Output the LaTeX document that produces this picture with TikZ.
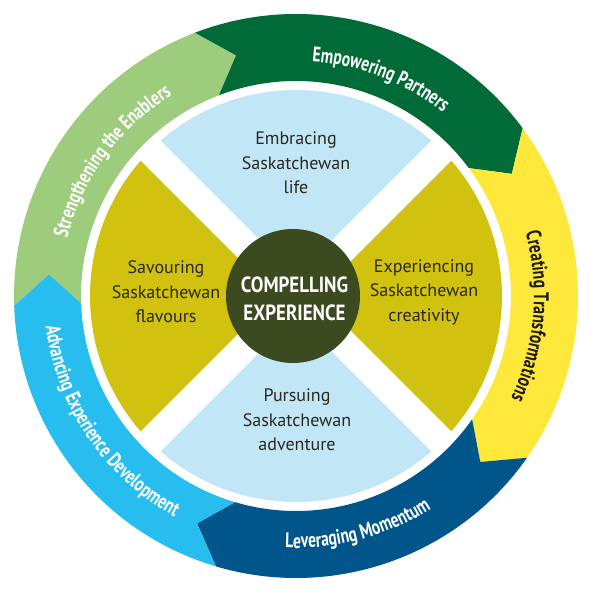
\documentclass[tikz,border=0pt]{standalone}
\usepackage{fontspec}
\setmainfont{PT Sans}
\newfontfamily\ringfont[FakeStretch=0.74]{PT Sans}
\newfontfamily\corefont[FakeStretch=0.86]{PT Sans}
\usetikzlibrary{decorations.text}
\definecolor{lgreen}{HTML}{9DCD7C}
\definecolor{dgreen}{HTML}{006B36}
\definecolor{ryellow}{HTML}{FFE83C}
\definecolor{dblue}{HTML}{00568A}
\definecolor{lblue}{HTML}{27BDEE}
\definecolor{olive}{HTML}{D1C20F}
\definecolor{paleblue}{HTML}{C1E6F6}
\definecolor{coregreen}{HTML}{3C4A1F}
\definecolor{qtext}{HTML}{2A271E}
\definecolor{darktext}{HTML}{1E1B18}
\newcommand\ringseg[3]{\fill[#3] (#1:282pt) arc[start angle=#1, end angle=#2, radius=282pt] -- ({#2-7}:248pt) -- (#2:215pt) arc[start angle=#2, end angle=#1, radius=215pt] -- ({#1-7}:248pt) -- cycle;}
\newcommand\ringtxt{\ringfont\bfseries\fontsize{21}{24}\selectfont}
\begin{document}
\begin{tikzpicture}[x=1pt,y=1pt,
  quadtext/.style={font=\fontsize{18}{24.5}\selectfont, text=qtext, align=center},
  coretext/.style={font=\corefont\bfseries\fontsize{22}{28}\selectfont, text=white, align=center},
  ringlabel/.style={decorate, decoration={text along path, text align=center, text color=#1}}]
\useasboundingbox (0,0) rectangle (600,590);
\fill[white] (0,0) rectangle (600,590);
\begin{scope}[shift={(296,294)}]
  % outer ring segments
  \ringseg{182}{111}{lgreen}
  \ringseg{111}{36.5}{dgreen}
  \ringseg{36.5}{-35}{ryellow}
  \ringseg{-35}{-106.5}{dblue}
  \ringseg{253.5}{182}{lblue}
  % quadrants
  \fill[paleblue] (0,0) -- (45:206pt) arc[start angle=45, end angle=135, radius=206pt] -- cycle;
  \fill[olive] (0,0) -- (135:206pt) arc[start angle=135, end angle=225, radius=206pt] -- cycle;
  \fill[paleblue] (0,0) -- (225:206pt) arc[start angle=225, end angle=315, radius=206pt] -- cycle;
  \fill[olive] (0,0) -- (-45:206pt) arc[start angle=-45, end angle=45, radius=206pt] -- cycle;
  \fill[white, rotate=45] (-212,-14) rectangle (212,14);
  \fill[white, rotate=-45] (-212,-14) rectangle (212,14);
  % core
  \fill[coregreen] (-3,0) circle (67pt);
  \node[coretext] (core) at (-1.5,-2.5) {COMPELLING\\EXPERIENCE};
  % quadrant texts
  \node[quadtext] (qtop) at (0,133) {Embracing\\Saskatchewan\\life};
  \node[quadtext] (qleft) at (-130,4) {Savouring\\Saskatchewan\\flavours};
  \node[quadtext] (qright) at (128,4) {Experiencing\\Saskatchewan\\creativity};
  \node[quadtext] (qbottom) at (1,-124) {Pursuing\\Saskatchewan\\adventure};
  % ring labels
  \path[ringlabel=white, decoration={text={|\ringtxt|Strengthening the Enablers}}]
    (173.75:236pt) arc[start angle=173.75, end angle=113.75, radius=236pt];
  \path[ringlabel=white, decoration={text={|\ringtxt|Empowering Partners}}]
    (96.7:235pt) arc[start angle=96.7, end angle=40.7, radius=235pt];
  \path[ringlabel=darktext, decoration={text={|\ringtxt|Creating Transformations}}]
    (25:238pt) arc[start angle=25, end angle=-35, radius=238pt];
  \path[ringlabel=white, decoration={text={|\ringtxt|Leveraging Momentum}}]
    (-103:252pt) arc[start angle=-103, end angle=-47, radius=252pt];
  \path[ringlabel=white, decoration={text={|\ringtxt|Advancing Experience Development}}]
    (176:252pt) arc[start angle=176, end angle=252, radius=252pt];
\end{scope}
\end{tikzpicture}
\end{document}
